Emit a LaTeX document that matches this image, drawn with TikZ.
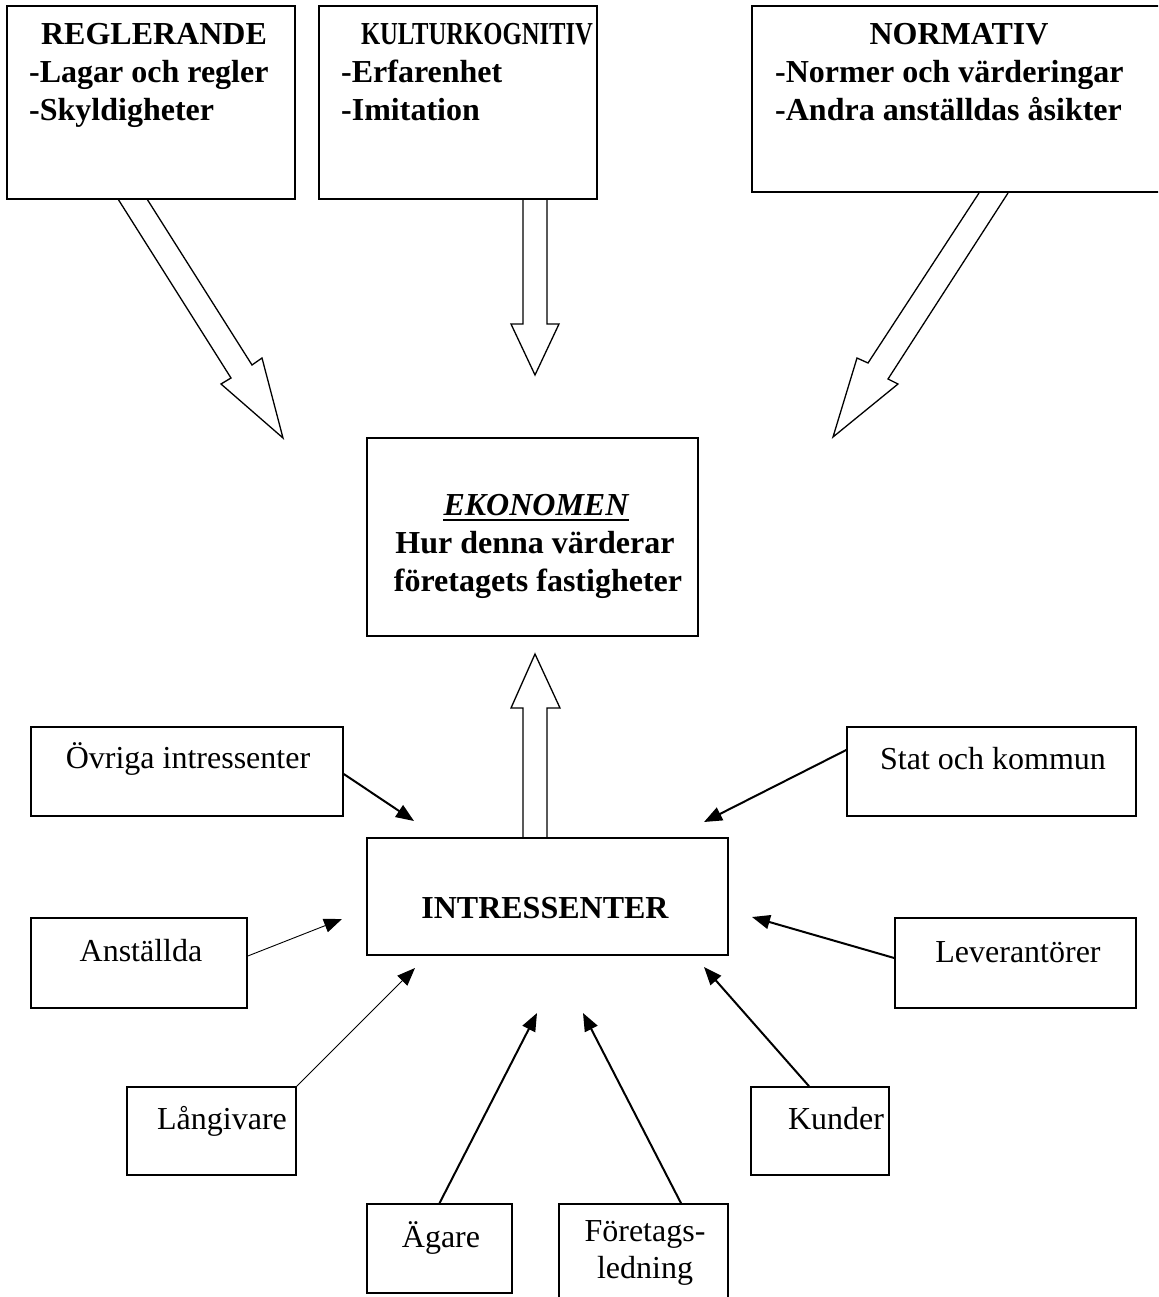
\documentclass[tikz,border=0pt]{standalone}
\usepackage{fontspec}
\setmainfont{Liberation Serif}
\usetikzlibrary{arrows.meta,calc}
\begin{document}
\begin{tikzpicture}[x=1pt,y=-1pt,
  box/.style={draw,line width=1.6pt,inner sep=0pt},
  lbl/.style={inner sep=0pt,anchor=base,font=\fontsize{32}{37}\selectfont},
  blbl/.style={inner sep=0pt,anchor=base,font=\fontsize{32}{37}\selectfont\bfseries},
  llbl/.style={blbl,anchor=base west},
  conn/.style={line width=2pt,-{Triangle[length=18pt,width=14pt]}},
  thinconn/.style={line width=0.9pt,-{Triangle[length=18pt,width=14pt]}},
  block/.style={draw,line width=1.3pt,fill=white,line join=miter}]
\useasboundingbox (0,0) rectangle (1158,1297);
\clip (0,0) rectangle (1158,1297);

% block arrows
\draw[block] (118,199) -- (231,378) -- (221,384) -- (283,438) -- (262,358) -- (252,365) -- (147,199);
\draw[block] (523,199) -- (523,324) -- (511,324) -- (535,375) -- (559,324) -- (547,324) -- (547,199);
\draw[block] (979,193) -- (868,363) -- (857,358) -- (833,437) -- (898,384) -- (888,379) -- (1008,193);
\draw[block] (523,838) -- (523,708) -- (511,708) -- (535,654) -- (560,708) -- (547,708) -- (547,838);

% boxes
\node[box,minimum width=288pt,minimum height=193pt] (regl) at (151,102.5) {};
\node[box,minimum width=278pt,minimum height=193pt] (kult) at (458,102.5) {};
\node[box,minimum width=418pt,minimum height=186pt] (norm) at (961,99) {};
\node[box,minimum width=331pt,minimum height=198pt] (eko) at (532.5,537) {};
\node[box,minimum width=361pt,minimum height=117pt] (intr) at (547.5,896.5) {};
\node[box,minimum width=312pt,minimum height=89pt] (ovr) at (187,771.5) {};
\node[box,minimum width=216pt,minimum height=90pt] (anst) at (139,963) {};
\node[box,minimum width=169pt,minimum height=88pt] (lang) at (211.5,1131) {};
\node[box,minimum width=145pt,minimum height=89pt] (agare) at (439.5,1248.5) {};
\node[box,minimum width=169pt,minimum height=106pt] (fled) at (643.5,1257) {};
\node[box,minimum width=138pt,minimum height=88pt] (kund) at (820,1131) {};
\node[box,minimum width=241pt,minimum height=90pt] (lev) at (1015.5,963) {};
\node[box,minimum width=289pt,minimum height=89pt] (stat) at (991.5,771.5) {};

% texts top
\node[blbl] (reglt) at (154,45) {REGLERANDE};
\node[llbl] (regl1) at (29,83) {-Lagar och regler};
\node[llbl] (regl2) at (29,121) {-Skyldigheter};
\node[blbl] (kultt) at (477,45) {\resizebox{232pt}{\height}{KULTURKOGNITIV}};
\node[llbl] (kult1) at (341,83) {-Erfarenhet};
\node[llbl] (kult2) at (341,121) {-Imitation};
\node[blbl] (normt) at (959,45) {NORMATIV};
\node[llbl] (norm1) at (775,83) {-Normer och värderingar};
\node[llbl] (norm2) at (775,121) {-Andra anställdas åsikter};

% ekonomen
\node[blbl] (ekot) at (536,515) {\itshape EKONOMEN};
\draw[line width=2.5pt] ([yshift=-5pt]ekot.base west) -- ([yshift=-5pt]ekot.base east);
\node[blbl] (eko1) at (535,553) {Hur denna värderar};
\node[blbl] (eko2) at (538,591) {företagets fastigheter};

\node[blbl] (intrt) at (545,918) {INTRESSENTER};

% stakeholder labels
\node[lbl] (ovrt) at (188,768) {Övriga intressenter};
\node[lbl] (anstt) at (141,961) {Anställda};
\node[lbl] (langt) at (222,1129) {Långivare};
\node[lbl] (agaret) at (441,1247) {Ägare};
\node[lbl] (fledt1) at (645,1241) {Företags-};
\node[lbl] (fledt2) at (645,1278) {ledning};
\node[lbl] (kundt) at (836,1129) {Kunder};
\node[lbl] (levt) at (1018,962) {Leverantörer};
\node[lbl] (statt) at (993,769) {Stat och kommun};

% arrow tips
\coordinate (tOvr) at (414,821);
\coordinate (tAnst) at (342,919);
\coordinate (tLang) at (415,968);
\coordinate (tAgare) at (537,1013);
\coordinate (tFled) at (583,1013);
\coordinate (tKund) at (704,967);
\coordinate (tLev) at (752,917);
\coordinate (tStat) at (704,822);

\draw[conn] ([yshift=-2.5pt]ovr.east) -- (tOvr);
\draw[thinconn] ([yshift=7pt]anst.east) -- (tAnst);
\draw[thinconn] (lang.north east) -- (tLang);
\draw[conn] (agare.north) -- (tAgare);
\draw[conn] ([xshift=37.5pt]fled.north) -- (tFled);
\draw[conn] ([xshift=-11pt]kund.north) -- (tKund);
\draw[conn] ([yshift=5pt]lev.west) -- (tLev);
\draw[conn] ([yshift=21.5pt]stat.west) -- (tStat);
\end{tikzpicture}
\end{document}
